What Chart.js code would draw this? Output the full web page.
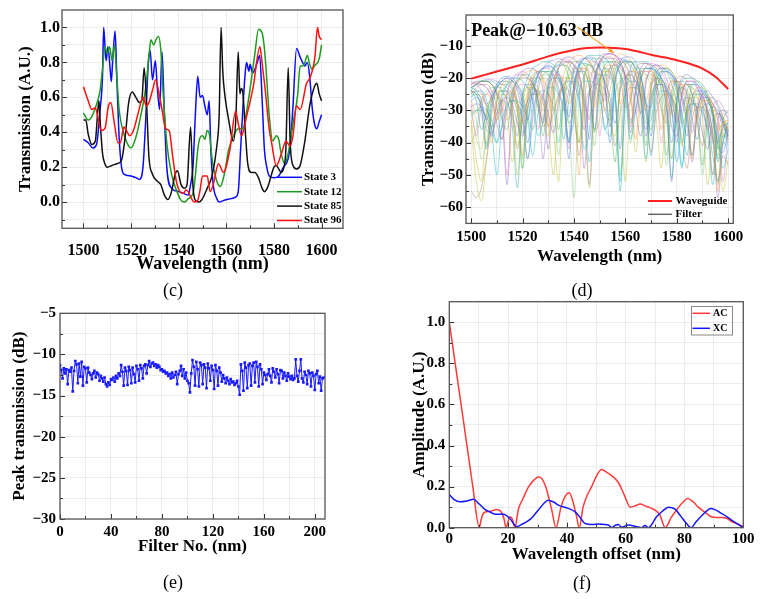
<!DOCTYPE html>
<html><head><meta charset="utf-8">
<script src="https://cdn.jsdelivr.net/npm/chart.js@4.4.1/dist/chart.umd.min.js"></script>
<style>
body{margin:0;background:#fff;width:765px;height:599px;position:relative;overflow:hidden;font-family:'Liberation Serif','Times New Roman',serif;}
canvas{position:absolute;}
.cap{position:absolute;font-size:18px;transform:translate(-50%,-50%);color:#000;}
</style></head><body>
<canvas id="cC" width="380" height="300" style="left:0;top:0"></canvas>
<canvas id="cD" width="380" height="300" style="left:385px;top:0"></canvas>
<canvas id="cE" width="380" height="299" style="left:0;top:300px"></canvas>
<canvas id="cF" width="380" height="299" style="left:385px;top:300px"></canvas>
<div class="cap" style="left:173px;top:290px">(c)</div>
<div class="cap" style="left:582px;top:290px">(d)</div>
<div class="cap" style="left:173px;top:582px">(e)</div>
<div class="cap" style="left:582px;top:583px">(f)</div>
<script>
// ---------------- DATA ----------------
// (c) spectra of four states
const s3X=[1500,1502,1504,1505.5,1507,1508,1508.5,1509.5,1510.3,1511,1511.7,1512.2,1513.3,1514,1515,1516,1517,1520,1522,1523.5,1525,1526,1527.3,1528,1529,1530.2,1531,1532,1533,1534,1535,1537,1540,1542,1544,1545,1546,1547,1548,1549,1550,1551,1552,1552.8,1553.5,1554.5,1556,1557,1559,1562,1564,1565,1566,1567,1568,1568.5,1569.5,1570,1571,1572,1573,1574,1575,1576,1577,1578,1580,1582,1584,1586,1587,1588,1589.5,1591,1592,1593,1594,1595,1596,1597,1598,1599,1600];
const s3Y=[0.36,0.34,0.31,0.33,0.53,0.72,1.0,0.81,0.89,0.80,0.69,0.79,0.98,0.72,0.37,0.20,0.16,0.15,0.14,0.13,0.20,0.43,0.81,0.87,0.70,0.81,0.66,0.53,0.86,0.5,0.2,0.08,0.06,0.05,0.04,0.10,0.2,0.5,0.72,0.6,0.61,0.55,0.5,0.58,0.3,0.1,0.02,0.0,0.01,0.02,0.03,0.06,0.3,0.55,0.75,0.80,0.75,0.79,0.74,0.76,0.80,0.84,0.6,0.3,0.2,0.15,0.14,0.15,0.2,0.25,0.35,0.55,0.88,0.83,0.80,0.78,0.80,0.72,0.55,0.45,0.42,0.46,0.5];
const s12X=[1500,1502,1503.5,1505,1507,1508,1509,1510,1511,1512,1513,1514,1515,1517,1519,1520,1522,1524,1526,1527.5,1528.3,1529.5,1530.5,1531.5,1532.5,1533.5,1535,1537,1539,1541,1542.5,1544,1546,1547,1548,1549,1550,1551,1552,1553,1554,1556,1557.5,1559,1561,1563,1565,1567,1568,1570,1572,1573.5,1575,1576,1577,1578,1579.5,1581,1582,1583,1584.5,1586,1588,1590,1591,1592,1593,1594,1595,1596,1597,1599,1600];
const s12Y=[0.51,0.47,0.49,0.54,0.64,0.76,0.89,0.85,0.89,0.81,0.90,0.72,0.53,0.39,0.32,0.31,0.37,0.49,0.64,0.83,0.93,0.90,0.93,0.95,0.87,0.62,0.34,0.16,0.07,0.01,0.0,0.02,0.05,0.15,0.3,0.37,0.38,0.36,0.41,0.38,0.25,0.12,0.09,0.15,0.3,0.38,0.42,0.42,0.48,0.65,0.85,0.99,0.97,0.88,0.7,0.5,0.35,0.38,0.36,0.28,0.22,0.28,0.45,0.62,0.78,0.78,0.80,0.84,0.79,0.76,0.78,0.82,0.90];
const s85X=[1500,1501,1502,1503.5,1505,1506.5,1507,1508,1509,1510,1512,1514,1516,1517.5,1519,1520.5,1522,1523.5,1524.5,1525.5,1526.5,1527.5,1529,1531,1532.5,1534,1535.5,1537,1538.5,1539.5,1541,1542.5,1543.5,1545,1546,1547,1548.5,1550,1552,1554,1556,1557,1557.8,1558.5,1559.5,1561,1562.5,1563,1564,1565,1565.7,1566.3,1567,1568,1569,1570.5,1572,1573.5,1575,1576,1577.5,1579,1580,1581,1582,1583,1584,1585,1586,1586.8,1588,1589.5,1591,1593,1595,1597,1598,1599,1600];
const s85Y=[0.47,0.47,0.39,0.33,0.35,0.58,0.47,0.28,0.22,0.20,0.21,0.22,0.24,0.37,0.57,0.63,0.60,0.57,0.58,0.77,0.57,0.26,0.16,0.12,0.10,0.04,0.015,0.06,0.16,0.18,0.10,0.08,0.10,0.43,0.09,0.01,0.0,0.02,0.08,0.15,0.32,0.5,1.0,0.75,0.6,0.47,0.36,0.35,0.48,0.86,0.62,0.65,0.62,0.40,0.22,0.17,0.17,0.14,0.08,0.06,0.09,0.16,0.20,0.21,0.19,0.17,0.19,0.30,0.77,0.35,0.21,0.19,0.21,0.35,0.55,0.66,0.68,0.62,0.58];
const s96X=[1500,1502,1503.5,1505,1506,1507.5,1509,1510.5,1511.5,1513,1514.5,1515.5,1517,1518,1519.5,1521,1523,1525,1526.5,1527.5,1529,1530.3,1531.5,1533,1534.5,1536,1537.5,1539,1540.5,1542,1543,1544,1545,1546.5,1548,1549,1550,1552,1553.2,1554.5,1556.7,1558.8,1561.5,1563.9,1565,1566.4,1568.5,1571.3,1574.1,1575,1576.2,1578,1579,1581,1583.2,1585,1586.8,1588,1589.5,1591,1593.7,1595.1,1597.2,1598.3,1599,1600];
const s96Y=[0.66,0.58,0.53,0.54,0.49,0.41,0.42,0.55,0.57,0.45,0.34,0.34,0.43,0.41,0.38,0.41,0.51,0.60,0.55,0.57,0.64,0.70,0.64,0.53,0.42,0.41,0.26,0.12,0.06,0.05,0.07,0.06,0.03,0.0,0.01,0.07,0.15,0.15,0.06,0.10,0.22,0.17,0.30,0.52,0.45,0.38,0.49,0.66,0.89,0.80,0.66,0.42,0.34,0.21,0.28,0.35,0.32,0.38,0.55,0.53,0.68,0.71,0.83,1.0,0.95,0.93];
const cStates=['State 3','State 12','State 85','State 96'];

// (d) waveguide and filter spectra (dB)
const dWgX=[1500,1505,1510,1515,1520,1525,1530,1535,1540,1545,1550,1555,1560,1565,1570,1575,1580,1585,1590,1595,1600];
const dWgY=[-20.2,-19.1,-18.0,-16.9,-15.8,-14.6,-13.3,-12.2,-11.3,-10.75,-10.55,-10.7,-11.0,-11.8,-12.8,-13.6,-14.5,-15.6,-17.1,-19.6,-23.4];
const dLambda=[1500,1502,1504,1506,1508,1510,1512,1514,1516,1518,1520,1522,1524,1526,1528,1530,1532,1534,1536,1538,1540,1542,1544,1546,1548,1550,1552,1554,1556,1558,1560,1562,1564,1566,1568,1570,1572,1574,1576,1578,1580,1582,1584,1586,1588,1590,1592,1594,1596,1598,1600];
const dFilterA=[-24,-25,-30,-42,-30,-23,-21,-20,-21,-23,-28,-40,-27,-19,-17,-16,-17,-19,-25,-45,-24,-16,-14,-14,-15,-17,-22,-40,-22,-16,-15,-15,-17,-20,-27,-38,-25,-19,-18,-19,-21,-25,-32,-44,-30,-25,-24,-26,-29,-34,-38];
const dFilterB=[-24,-22,-21,-21,-22,-25,-33,-36,-25,-21,-19,-19,-21,-29,-38,-23,-17,-15,-16,-20,-32,-40,-20,-15,-14,-14,-17,-30,-46,-22,-16,-15,-16,-19,-30,-36,-22,-18,-17,-18,-22,-34,-30,-22,-21,-22,-25,-30,-42,-33,-30];
const dFilterC=[-26,-24,-24,-27,-36,-40,-27,-22,-20,-20,-21,-23,-27,-38,-33,-21,-17,-16,-16,-17,-20,-26,-42,-36,-20,-16,-15,-15,-16,-19,-25,-39,-30,-20,-17,-17,-18,-20,-23,-29,-46,-33,-24,-22,-22,-24,-27,-31,-37,-48,-42];
const dFilterD=[-28,-38,-29,-25,-24,-25,-29,-50,-28,-23,-22,-23,-27,-36,-25,-20,-19,-19,-23,-42,-24,-18,-17,-18,-22,-38,-23,-17,-16,-17,-21,-35,-23,-18,-18,-19,-23,-40,-26,-21,-21,-22,-26,-37,-29,-26,-26,-28,-33,-52,-36];
const dFilterE=[-23,-22,-21,-21,-21,-22,-24,-27,-35,-54,-27,-20,-17,-16,-15,-15,-16,-18,-25,-40,-25,-17,-14,-13,-13,-13,-14,-16,-24,-55,-26,-17,-15,-15,-15,-16,-18,-21,-30,-51,-28,-21,-20,-20,-21,-23,-26,-31,-45,-40,-33];
const dFilterF=[-30,-33,-45,-40,-28,-25,-24,-24,-26,-31,-48,-30,-23,-21,-20,-21,-25,-44,-27,-20,-18,-18,-19,-23,-41,-25,-19,-17,-17,-19,-24,-40,-26,-20,-19,-20,-22,-28,-47,-29,-23,-23,-24,-27,-33,-50,-34,-30,-31,-34,-40];
const dFilterG=[-25,-24,-25,-29,-40,-27,-22,-21,-22,-29,-44,-24,-19,-18,-21,-35,-23,-17,-16,-17,-24,-50,-21,-16,-15,-18,-30,-24,-16,-15,-16,-22,-39,-21,-18,-18,-22,-36,-25,-21,-21,-23,-30,-45,-28,-25,-26,-31,-55,-35,-33];
const dFilterH=[-23,-22,-22,-23,-26,-34,-39,-25,-21,-19,-19,-20,-22,-27,-45,-26,-18,-16,-15,-15,-16,-19,-30,-53,-24,-16,-14,-14,-14,-16,-20,-33,-30,-20,-17,-17,-18,-20,-24,-35,-38,-25,-22,-22,-23,-26,-30,-37,-57,-40,-35];
const dFilterI=[-30,-39,-42,-30,-27,-26,-27,-31,-46,-31,-25,-23,-23,-25,-33,-38,-26,-21,-20,-20,-23,-40,-26,-19,-18,-19,-23,-34,-38,-23,-19,-19,-21,-26,-46,-27,-22,-21,-22,-25,-33,-41,-29,-26,-26,-28,-34,-50,-38,-34,-36];
const dFilterJ=[-55,-57,-54,-45,-35,-29,-27,-28,-32,-42,-33,-27,-25,-25,-28,-35,-31,-25,-23,-24,-29,-44,-30,-24,-22,-22,-24,-29,-41,-31,-25,-23,-23,-25,-31,-43,-31,-26,-25,-26,-30,-39,-48,-33,-29,-29,-32,-39,-52,-44,-47];
const dFilterK=[-22,-21,-21,-21,-22,-25,-31,-53,-28,-20,-18,-17,-17,-19,-24,-42,-25,-17,-14,-13.5,-14,-16,-21,-39,-22,-15,-13,-12.5,-13,-15,-20,-37,-24,-17,-15.5,-16,-17,-20,-26,-52,-27,-20,-19,-20,-22,-25,-32,-50,-33,-30,-31];
const dFilterL=[-40,-36,-27,-24,-23,-23,-23,-24,-26,-31,-45,-30,-22,-20,-19,-19,-19,-21,-24,-33,-57,-27,-19,-17,-16,-16,-17,-19,-25,-50,-27,-19,-17,-17,-17,-18,-20,-23,-33,-45,-28,-23,-22,-23,-24,-26,-30,-37,-53,-38,-37];
const dFilterM=[-27,-26,-28,-36,-37,-27,-24,-24,-30,-38,-25,-22,-22,-27,-34,-23,-20,-20,-26,-40,-22,-18,-18,-23,-36,-21,-17,-18,-25,-42,-21,-18,-19,-26,-36,-23,-20,-21,-29,-40,-26,-23,-25,-33,-39,-29,-28,-30,-41,-43,-36];
const dFilterN=[-22,-21.5,-21,-21,-22,-24,-28,-33,-28,-22,-19,-18,-17.5,-18,-20,-24,-30,-26,-19,-15,-13.5,-13,-13.5,-15,-19,-28,-25,-17,-13.5,-12.5,-13,-14.5,-18,-24,-27,-21,-17,-16,-16.5,-18,-21,-27,-32,-26,-23,-23,-25,-28,-33,-38,-34];
const dFilterO=[-24,-25,-29,-41,-28,-23,-22,-22,-24,-29,-48,-27,-20,-18,-18,-19,-23,-36,-25,-17,-15,-15,-16,-20,-37,-22,-16,-15,-15,-16,-20,-34,-24,-18,-17,-17,-19,-24,-44,-27,-21,-21,-22,-25,-31,-47,-32,-29,-30,-33,-39];
const dFilterP=[-23,-22,-21,-20.5,-20.5,-21,-22,-23,-25,-28,-33,-45,-33,-22,-17,-15,-14.5,-14,-14.5,-15.5,-18,-23,-48,-24,-16,-13.5,-12.5,-12.5,-13,-14,-16,-20,-30,-38,-22,-17,-16,-16.5,-17.5,-19,-22,-26,-34,-46,-31,-26,-26,-28,-31,-35,-39];
const dFilterQ=[-31,-30,-30,-32,-37,-50,-34,-28,-27,-28,-32,-45,-30,-25,-24,-25,-29,-40,-27,-22,-21,-22,-27,-46,-25,-20,-19,-20,-25,-52,-25,-21,-21,-23,-28,-44,-28,-24,-24,-26,-31,-47,-32,-28,-29,-31,-37,-53,-39,-37,-41];
const dFilterR=[-33,-45,-52,-33,-26,-24,-24,-25,-29,-50,-29,-22,-20,-20,-21,-25,-36,-52,-26,-19,-17,-17,-18,-22,-36,-33,-20,-17,-16,-17,-19,-24,-43,-27,-20,-19,-20,-22,-27,-45,-30,-23,-22,-23,-26,-32,-53,-36,-31,-32,-36];
const dFilterS=[-27,-31,-27,-25,-27,-33,-28,-25,-24,-28,-34,-26,-22,-23,-30,-27,-21,-19,-21,-28,-24,-18,-17,-20,-29,-22,-17,-16,-19,-28,-21,-18,-18,-22,-30,-23,-20,-21,-26,-31,-24,-22,-24,-30,-33,-27,-27,-30,-36,-34,-33];
const dFilterT=[-21,-22,-24,-28,-26,-23,-21,-20,-21,-24,-29,-27,-21,-18,-17,-17,-19,-23,-30,-24,-17,-14.5,-14,-15,-18,-24,-27,-19,-15,-14,-14.5,-17,-23,-31,-21,-17,-16,-17,-20,-26,-34,-25,-21,-21,-23,-28,-36,-29,-27,-29,-33];
const dFilterU=[-35,-52,-58,-45,-32,-27,-25,-26,-30,-41,-30,-25,-23,-24,-27,-34,-50,-29,-22,-20,-20,-23,-31,-54,-27,-20,-18,-18,-21,-28,-52,-26,-19,-18,-19,-23,-33,-48,-27,-22,-21,-23,-28,-44,-32,-27,-27,-30,-38,-55,-45];
const dFilterV=[-25,-23,-22,-22,-24,-29,-39,-30,-24,-21,-20,-20,-22,-26,-35,-31,-21,-17,-15.5,-15,-16,-19,-26,-33,-20,-15,-13.5,-13.5,-15,-19,-29,-27,-18,-15.5,-15.5,-17,-21,-30,-34,-24,-20,-19.5,-21,-25,-34,-41,-28,-26,-28,-32,-37];
const dFilterW=[-29,-28,-29,-33,-38,-31,-27,-26,-28,-34,-38,-29,-25,-24,-26,-31,-37,-27,-22,-21,-22,-27,-36,-25,-20,-19,-21,-26,-34,-24,-20,-19,-21,-26,-38,-26,-22,-22,-24,-30,-40,-29,-26,-27,-30,-37,-42,-33,-31,-33,-38];
const dFilterX=[-23,-24,-27,-33,-27,-22,-20,-19.5,-20,-22,-26,-33,-24,-19,-17,-16.5,-17,-20,-26,-32,-22,-16,-14,-13.5,-14,-16.5,-22,-35,-21,-15,-13.5,-13.5,-15,-19,-28,-29,-19,-17,-17,-19,-23,-31,-38,-26,-24,-24,-26,-31,-40,-35,-34];
const dFilterY=[-26,-25,-26,-29,-35,-33,-25,-22,-21,-22,-25,-32,-36,-24,-19,-18,-18,-20,-24,-34,-30,-19,-16,-16,-17,-21,-30,-33,-20,-16,-15,-16,-19,-26,-41,-23,-18,-17,-18,-22,-28,-40,-29,-25,-25,-27,-31,-39,-44,-36,-36];
const dFilterZ=[-32,-30,-29,-30,-33,-40,-35,-29,-27,-27,-29,-33,-44,-31,-25,-23,-23,-25,-29,-39,-33,-24,-21,-21,-22,-26,-35,-38,-25,-21,-20,-21,-24,-31,-45,-28,-23,-22,-23,-27,-35,-48,-31,-28,-28,-30,-35,-44,-52,-40,-42];
const dFilterAA=[-22,-21.5,-22,-23,-26,-31,-30,-24,-20,-18.5,-18,-19,-22,-29,-33,-22,-17,-15,-14,-14.5,-16,-20,-28,-32,-20,-15,-13,-12.5,-13,-15,-19,-27,-31,-21,-16.5,-15.5,-16,-18,-22,-30,-33,-25,-21,-21,-22,-25,-30,-40,-36,-31,-32];
const dFilterAB=[-24,-27,-36,-31,-25,-22,-21,-21,-23,-27,-37,-33,-23,-19,-18,-18,-20,-25,-39,-27,-18,-16,-15.5,-16,-18,-23,-36,-30,-18,-15,-14.5,-15,-17,-22,-34,-33,-21,-18,-18,-20,-24,-33,-44,-29,-25,-25,-27,-32,-46,-38,-38];
const dFilters=[dFilterA,dFilterS,dFilterB,dFilterT,dFilterC,dFilterU,dFilterD,dFilterV,dFilterE,dFilterW,dFilterF,dFilterX,dFilterG,dFilterY,dFilterH,dFilterZ,dFilterI,dFilterAA,dFilterJ,dFilterAB,dFilterK,dFilterL,dFilterM,dFilterN,dFilterO,dFilterP,dFilterQ,dFilterR];

// (e) peak transmission of each filter (dB), filter No. 0..207
const ePeak=[
-11.3,-11.9,-12.9,-11.7,-12.3,-11.8,-13.6,-11.9,-12.1,-11.6,
-14.5,-12.0,-10.8,-11.2,-13.5,-11.1,-12.7,-10.9,-13.8,-11.5,
-11.7,-13.4,-11.6,-12.2,-12.5,-13.0,-12.3,-12.0,-12.8,-12.2,
-12.4,-13.2,-12.6,-12.9,-13.3,-12.8,-13.6,-13.9,-13.4,-13.7,
-13.0,-13.1,-12.8,-13.3,-12.6,-12.9,-12.3,-12.6,-11.3,-12.1,
-13.8,-11.6,-12.0,-13.7,-11.5,-11.9,-13.5,-11.6,-12.4,-13.4,
-11.4,-11.8,-13.2,-11.3,-11.7,-12.9,-11.4,-11.2,-12.3,-11.3,
-10.8,-11.5,-11.1,-11.0,-11.4,-11.2,-11.6,-11.3,-11.5,-11.9,
-11.8,-12.1,-12.0,-12.3,-12.2,-12.6,-12.4,-12.9,-12.2,-12.8,
-12.5,-12.1,-13.6,-12.4,-12.0,-11.4,-12.6,-11.8,-12.9,-12.2,
-13.2,-13.5,-14.6,-12.3,-10.7,-11.5,-13.8,-10.9,-11.8,-13.9,
-11.0,-11.3,-13.6,-11.2,-11.6,-14.1,-11.1,-11.7,-13.2,-11.4,
-11.9,-14.2,-11.3,-12.0,-13.8,-11.6,-12.2,-13.3,-12.5,-12.9,
-13.5,-12.8,-13.2,-13.6,-13.0,-13.4,-13.3,-13.7,-13.5,-13.2,
-13.9,-14.9,-11.2,-12.0,-14.4,-11.0,-11.6,-14.1,-11.3,-11.1,
-13.8,-11.4,-11.0,-13.4,-10.9,-11.5,-13.9,-11.2,-11.8,-13.6,
-12.2,-12.5,-13.1,-12.4,-11.8,-12.6,-13.4,-11.7,-12.1,-12.8,
-11.8,-12.4,-13.5,-11.9,-12.0,-12.9,-12.2,-12.6,-13.2,-12.3,
-12.7,-13.0,-12.6,-13.1,-12.9,-10.6,-12.6,-13.3,-12.0,-10.6,
-12.9,-13.4,-12.1,-12.5,-13.6,-12.0,-12.3,-13.9,-12.2,-12.6,
-14.3,-12.4,-12.0,-13.5,-12.7,-14.4,-12.9,-12.8];

// (f) auto- and cross-correlation
const fAcX=[0,2,4,6,8,10.2,11,12,14,16,17.5,18.5,19.3,20.6,21.5,22.3,23.5,25,27,29,30.3,31.4,33,34.8,36.3,38,39.5,40.8,42,43.2,44.2,45.5,47,48.4,50,51.8,53.5,55.5,57.5,59.5,61.5,63,64.9,66.8,68.8,70.5,71.7,73.4,75.5,77.5,79.5,81.1,83,84.7,87,89.2,91,92.6,94.5,96,98,100];
const fAcY=[1.0,0.8,0.6,0.4,0.2,0.0,0.05,0.075,0.08,0.089,0.08,0.05,0.0,0.053,0.04,0.0,0.09,0.14,0.2,0.235,0.247,0.24,0.19,0.09,0.0,0.1,0.155,0.17,0.13,0.06,0.0,0.1,0.16,0.2,0.25,0.283,0.27,0.25,0.22,0.16,0.1,0.105,0.115,0.105,0.094,0.08,0.06,0.0,0.05,0.09,0.125,0.142,0.125,0.1,0.075,0.053,0.05,0.05,0.045,0.03,0.018,0.005];
const fXcX=[0,1.8,3.6,6,8.2,10,12.1,14,15.5,18.4,20.6,22.9,24.5,26.9,28.5,30.3,33.7,35.5,37.1,40.5,42.7,44.5,46.1,48.5,50.7,52.5,54.1,55.2,56.5,57.5,58.6,60.9,63.7,65.4,66.6,67.7,70.5,72.5,74.5,76.8,78.8,80.7,82.2,84,85.8,89,92.6,96,100];
const fXcY=[0.162,0.135,0.126,0.13,0.138,0.118,0.089,0.075,0.066,0.065,0.045,0.005,0.015,0.034,0.055,0.086,0.134,0.125,0.11,0.094,0.078,0.05,0.021,0.015,0.018,0.016,0.013,0.0,0.012,0.016,0.002,0.013,0.005,0.0,0.011,0.0,0.053,0.08,0.1,0.09,0.055,0.02,0.0,0.03,0.057,0.094,0.07,0.037,0.0];

// tick labels (major ticks)
const cXTicks=[1500,1520,1540,1560,1580,1600];
const cYTicks=[0,0.2,0.4,0.6,0.8,1.0];
const dXTicks=[1500,1520,1540,1560,1580,1600];
const dYTicks=[-60,-50,-40,-30,-20,-10];
const eXTicks=[0,40,80,120,160,200];
const eYTicks=[-30,-25,-20,-15,-10,-5];
const fXTicks=[0,20,40,60,80,100];
const fYTicks=[0,0.2,0.4,0.6,0.8,1.0];

// ---------------- HELPERS ----------------
const FONT="'Liberation Serif','Times New Roman',serif";
Chart.defaults.font.family=FONT;
Chart.defaults.color='#000';
const pts=(xs,ys)=>xs.map((x,i)=>({x:x,y:ys[i]}));
const minus=v=>(v<0?'\u2212':'')+Math.abs(v);
const fix1=v=>v.toFixed(1);

function allTicks(min,max,major){
  const step=major[1]-major[0];const out=major.slice();
  for(let i=-1;i<major.length;i++){
    const v=(i<0?major[0]-step/2:major[i]+step/2);
    if(v>min+1e-9&&v<max-1e-9) out.push(v);
  }
  return out.sort((a,b)=>a-b);
}
function axis(o){
  const all=allTicks(o.min,o.max,o.major);
  return {
    type:'linear',min:o.min,max:o.max,
    afterBuildTicks:s=>{s.ticks=all.map(v=>({value:v}));},
    afterFit:s=>{
      if(o.h) s.height=o.size; else s.width=o.size;
      s.paddingTop=0;s.paddingBottom=0;s.paddingLeft=0;s.paddingRight=0;
    },
    ticks:{autoSkip:false,maxRotation:0,minRotation:0,padding:o.pad,color:'#000',
      font:{size:o.fs,weight:'bold',family:FONT},
      callback:v=>o.major.indexOf(v)>=0?o.fmt(v):''},
    grid:{color:'#ececec',lineWidth:1,drawTicks:false},
    border:{display:false},
    title:{display:true,text:o.title,color:'#000',padding:0,font:{size:o.ts,weight:'bold',family:FONT}}
  };
}
function makeDeco(cfg){
  return {
    id:'deco',
    afterDatasetsDraw(chart){
      const ctx=chart.ctx,a=chart.chartArea,xs=chart.scales.x,ys=chart.scales.y;
      ctx.save();
      ctx.strokeStyle='#333';ctx.lineWidth=1;
      xs.ticks.forEach(t=>{
        const p=Math.round(xs.getPixelForValue(t.value))+0.5;
        const L=cfg.xMajor.indexOf(t.value)>=0?5:3;
        ctx.beginPath();ctx.moveTo(p,a.bottom);ctx.lineTo(p,a.bottom-L);ctx.stroke();
      });
      ys.ticks.forEach(t=>{
        const p=Math.round(ys.getPixelForValue(t.value))+0.5;
        const L=cfg.yMajor.indexOf(t.value)>=0?5:3;
        ctx.beginPath();ctx.moveTo(a.left,p);ctx.lineTo(a.left+L,p);ctx.stroke();
      });
      ctx.strokeStyle='#555';ctx.lineWidth=1.3;
      ctx.strokeRect(a.left,a.top,a.right-a.left,a.bottom-a.top);
      const L=cfg.legend;
      if(L){
        if(L.box){ctx.strokeStyle='#888';ctx.lineWidth=1;ctx.strokeRect(L.box[0]+0.5,L.box[1]+0.5,L.box[2],L.box[3]);}
        L.items.forEach((it,i)=>{
          const ds=chart.data.datasets[it.ds];
          const y=L.y+i*L.rowH;
          ctx.strokeStyle=it.color||ds.borderColor;ctx.lineWidth=it.w||1.5;
          ctx.beginPath();ctx.moveTo(L.x,y);ctx.lineTo(L.x+L.len,y);ctx.stroke();
          ctx.fillStyle='#000';ctx.font='bold '+L.fs+'px '+FONT;ctx.textBaseline='middle';ctx.textAlign='left';
          ctx.fillText(it.label||ds.label,L.x+L.len+L.gap,y);
        });
      }
      const N=cfg.note;
      if(N){
        ctx.fillStyle='#000';ctx.font='bold '+N.fs+'px '+FONT;ctx.textBaseline='middle';ctx.textAlign='left';
        ctx.fillText(N.text,xs.getPixelForValue(N.tx),ys.getPixelForValue(N.ty));
        const x1=xs.getPixelForValue(N.ax1),y1=ys.getPixelForValue(N.ay1),x2=xs.getPixelForValue(N.ax2),y2=ys.getPixelForValue(N.ay2);
        ctx.strokeStyle=N.color;ctx.fillStyle=N.color;ctx.lineWidth=1.2;
        ctx.beginPath();ctx.moveTo(x1,y1);ctx.lineTo(x2,y2);ctx.stroke();
        const ang=Math.atan2(y2-y1,x2-x1),h=6;
        ctx.beginPath();ctx.moveTo(x2,y2);
        ctx.lineTo(x2-h*Math.cos(ang-0.4),y2-h*Math.sin(ang-0.4));
        ctx.lineTo(x2-h*Math.cos(ang+0.4),y2-h*Math.sin(ang+0.4));
        ctx.closePath();ctx.fill();
      }
      ctx.restore();
    }
  };
}
function opts(pad,xo,yo){
  return {responsive:false,animation:false,devicePixelRatio:1,
    layout:{padding:pad},
    plugins:{legend:{display:false},tooltip:{enabled:false}},
    elements:{point:{radius:0}},
    scales:{x:axis(Object.assign({h:true},xo)),y:axis(yo)}};
}
const line=(label,data,color,w,order)=>({label:label,data:data,borderColor:color,backgroundColor:color,borderWidth:w,pointRadius:0,cubicInterpolationMode:'monotone',order:order,fill:false});

// ---------------- (c) ----------------
new Chart(document.getElementById('cC'),{
  type:'line',
  data:{datasets:[
    line(cStates[0],pts(s3X,s3Y),'#0a0aff',1.5,4),
    line(cStates[1],pts(s12X,s12Y),'#1e9a1e',1.5,3),
    line(cStates[2],pts(s85X,s85Y),'#111111',1.5,2),
    line(cStates[3],pts(s96X,s96Y),'#ff1010',1.5,1)]},
  options:opts({left:15,top:10,right:37,bottom:25},
    {min:1491,max:1609,major:cXTicks,fmt:v=>String(v),fs:16,ts:18,pad:13,size:46.7,title:'Wavelength (nm)'},
    {min:-0.15,max:1.1,major:cYTicks,fmt:fix1,fs:16,ts:17,pad:2,size:47,title:'Transmission (A.U.)'}),
  plugins:[makeDeco({xMajor:cXTicks,yMajor:cYTicks,
    legend:{x:277,y:177.3,rowH:14.4,len:25,gap:2,fs:11,items:[{ds:0},{ds:1},{ds:2},{ds:3}]}})]
});

// ---------------- (d) ----------------
const palette=['rgba(60,120,220,0.55)','rgba(255,150,40,0.55)','rgba(70,175,70,0.55)','rgba(150,100,200,0.55)','rgba(30,185,205,0.6)','rgba(185,185,40,0.55)','rgba(230,120,190,0.55)','rgba(160,110,80,0.5)','rgba(40,170,170,0.6)','rgba(120,90,200,0.55)','rgba(120,200,120,0.55)'];
const dSets=[line('Waveguide',pts(dWgX,dWgY),'#ff2020',2,0)];
dFilters.forEach((f,i)=>dSets.push(line('Filter',pts(dLambda,f),palette[i%palette.length],0.8,1)));
new Chart(document.getElementById('cD'),{
  type:'line',
  data:{datasets:dSets},
  options:opts({left:33,top:15,right:31.7,bottom:33},
    {min:1498,max:1602,major:dXTicks,fmt:v=>String(v),fs:15,ts:17,pad:5,size:43.6,title:'Wavelength (nm)'},
    {min:-65,max:-0.5,major:dYTicks,fmt:minus,fs:15,ts:17,pad:3,size:48,title:'Transmission (dB)'}),
  plugins:[makeDeco({xMajor:dXTicks,yMajor:dYTicks,
    legend:{x:263,y:201,rowH:13.3,len:24,gap:3.5,fs:11,items:[{ds:0,w:2},{ds:1,color:'#666',w:1.5}]},
    note:{text:'Peak@\u221210.63 dB',tx:1500,ty:-5.6,fs:18,ax1:1541.3,ay1:-4.2,ax2:1555.6,ay2:-12.3,color:'#f5a030'}})]
});

// ---------------- (e) ----------------
new Chart(document.getElementById('cE'),{
  type:'line',
  data:{datasets:[{label:'Peak',data:ePeak.map((v,i)=>({x:i,y:v})),borderColor:'#1a1aff',backgroundColor:'#1a1aff',borderWidth:1,
    pointStyle:'rect',pointRadius:1.9,pointBorderWidth:0,pointBackgroundColor:'#1a1aff',tension:0}]},
  options:opts({left:9.8,top:13.3,right:55,bottom:42},
    {min:0,max:208,major:eXTicks,fmt:v=>String(v),fs:15,ts:17,pad:4,size:38,title:'Filter No. (nm)'},
    {min:-30,max:-5,major:eYTicks,fmt:minus,fs:15,ts:17,pad:4,size:50.2,title:'Peak transmission (dB)'}),
  plugins:[makeDeco({xMajor:eXTicks,yMajor:eYTicks})]
});

// ---------------- (f) ----------------
new Chart(document.getElementById('cF'),{
  type:'line',
  data:{datasets:[
    line('AC',pts(fAcX,fAcY),'#ff3b3b',1.5,2),
    line('XC',pts(fXcX,fXcY),'#1515ff',1.5,1)]},
  options:opts({left:24.8,top:1.7,right:21.7,bottom:33.8},
    {min:0,max:100,major:fXTicks,fmt:v=>String(v),fs:15,ts:17,pad:2.5,size:37.5,title:'Wavelength offset (nm)'},
    {min:0,max:1.1,major:fYTicks,fmt:fix1,fs:15,ts:17,pad:4,size:39.5,title:'Amplitude (A.U.)'}),
  plugins:[makeDeco({xMajor:fXTicks,yMajor:fYTicks,
    legend:{x:307.5,y:13.3,rowH:15,len:17.5,gap:3,fs:10,box:[306,6,41,28.5],items:[{ds:0},{ds:1}]}})]
});
</script>
</body></html>
